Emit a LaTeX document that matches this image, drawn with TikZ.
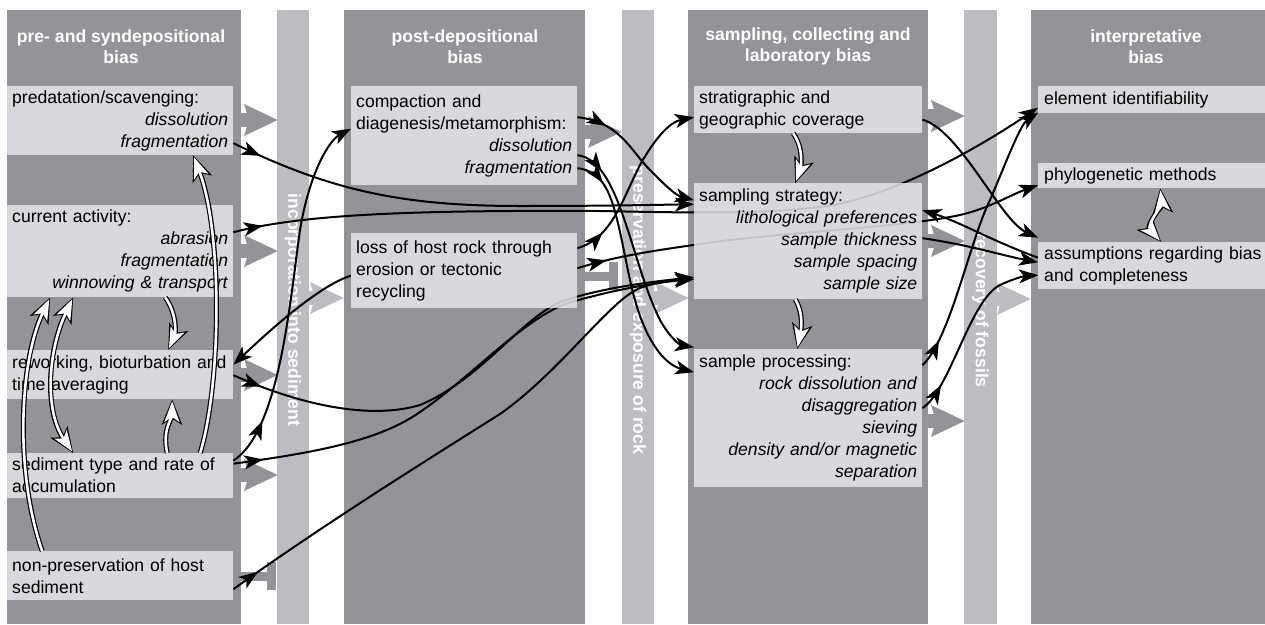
\documentclass[tikz,border=0pt]{standalone}
\usepackage{fontspec}
\setmainfont{Liberation Sans}
\usetikzlibrary{arrows.meta, decorations.markings, positioning}

\definecolor{colgray}{RGB}{147,148,152}
\definecolor{bargray}{RGB}{188,189,193}
\definecolor{boxgray}{RGB}{229,230,232}

\pgfdeclarelayer{front}
\pgfsetlayers{main,front}

\newcommand\ral[1]{\hspace*{\fill}\textit{#1}}

\begin{document}
\begin{tikzpicture}[x=1pt, y=-1pt,
  every node/.style={font=\fontsize{17.6}{22}\selectfont},
  head/.style={text=white, font=\fontsize{17.6}{21}\selectfont\bfseries, align=center},
  bartext/.style={text=white, font=\fontsize{17.6}{21}\selectfont\bfseries, rotate=-90},
  box/.style={fill=boxgray, fill opacity=0.85, text opacity=1, anchor=north west,
    inner xsep=5pt, inner ysep=0pt, align=left, text width=216pt},
  gflow/.style={draw=colgray, line width=14pt, -{Stealth[length=33pt, width=30pt, inset=4pt]}},
  lflow/.style={draw=bargray, line width=14pt, -{Stealth[length=33pt, width=30pt, inset=4pt]}},
  tstop/.style={draw=colgray, line width=9pt, -{Rectangle[length=9pt, width=28pt]}},
  conn/.style={draw=black, line width=2pt, -{Stealth[length=19pt, width=14pt, inset=5pt]}},
  early/.style={postaction={decorate}, decoration={markings,
    mark=at position #1 with {\arrow{Stealth[length=19pt, width=14pt, inset=5pt]}}}},
  early/.default=30pt,
  wout/.style={draw=black, line width=5pt, -{Stealth[length=25pt, width=20pt, inset=6pt]}},
  win/.style={draw=white, line width=2.6pt, -{Stealth[length=20.5pt, width=15pt, inset=5pt]}, shorten >=2pt},
  wout2/.style={draw=black, line width=5pt, {Stealth[length=25pt, width=20pt, inset=6pt]}-{Stealth[length=25pt, width=20pt, inset=6pt]}},
  win2/.style={draw=white, line width=2.6pt, {Stealth[length=20.5pt, width=15pt, inset=5pt]}-{Stealth[length=20.5pt, width=15pt, inset=5pt]}, shorten >=2pt, shorten <=2pt}]

\useasboundingbox (0,0) rectangle (1265,624);
\fill[white] (0,0) rectangle (1265,624);

% columns and bars
\fill[colgray] (7,10) rectangle (241,624);
\fill[colgray] (344,10) rectangle (585,624);
\fill[colgray] (688,10) rectangle (928,624);
\fill[colgray] (1031,10) rectangle (1265,624);
\fill[bargray] (277,10) rectangle (309,624);
\fill[bargray] (622,10) rectangle (654,624);
\fill[bargray] (964,10) rectangle (997,624);

\node[head] (h1) at (121,46.5) {pre- and syndepositional\\bias};
\node[head] (h2) at (465,46.5) {post-depositional\\bias};
\node[head] (h3) at (808,46.5) {sampling, collecting and\\laboratory bias};
\node[head] (h4) at (1146,46.5) {interpretative\\bias};

\node[bartext] (b1) at (293,310) {incorporation into sediment};
\node[bartext] (b2) at (638,310) {preservation and exposure of rock};
\node[bartext] (b3) at (980.5,310) {recovery of fossils};

% grey flows
\draw[gflow] (236,120) -- (278,120);
\draw[gflow] (236,251) -- (278,251);
\draw[gflow] (236,375) -- (278,375);
\draw[gflow] (236,475) -- (278,475);
\draw[gflow] (580,132) -- (622,132);
\draw[gflow] (923,116) -- (965,116);
\draw[gflow] (923,241) -- (965,241);
\draw[gflow] (923,421) -- (965,421);
\draw[lflow] (305,298) -- (344,298);
\draw[lflow] (650,298) -- (689,298);
\draw[lflow] (993,299) -- (1031,299);
\draw[tstop] (236,576) -- (276,576);
\draw[tstop] (580,276) -- (618,276);

% boxes
\begin{pgfonlayer}{front}
\node[box, minimum height=69pt] (pred) at (7,86) {predatation/scavenging:\\\ral{dissolution}\\\ral{fragmentation}};
\node[box, minimum height=92pt] (cur) at (7,205) {current activity:\\\ral{abrasion}\\\ral{fragmentation}\\\ral{winnowing \& transport}};
\node[box, minimum height=49pt] (rew) at (7,350) {reworking, bioturbation and\\time averaging};
\node[box, minimum height=45pt] (sed) at (7,453) {sediment type and rate of\\accumulation};
\node[box, minimum height=49pt] (non) at (7,551) {non-preservation of host\\sediment};
\node[box, minimum height=99pt] (comp) at (351,86) {compaction and\\diagenesis/metamorphism:\\\ral{dissolution}\\\ral{fragmentation}};
\node[box, minimum height=75pt] (loss) at (351,233) {loss of host rock through\\erosion or tectonic\\recycling};
\node[box, minimum height=47pt, text width=218pt] (strat) at (694,86) {stratigraphic and\\geographic coverage};
\node[box, minimum height=116pt, text width=218pt] (strg) at (694,183) {sampling strategy:\\\ral{lithological preferences}\\\ral{sample thickness}\\\ral{sample spacing}\\\ral{sample size}};
\node[box, minimum height=138pt, text width=218pt] (proc) at (694,349) {sample processing:\\\ral{rock dissolution and}\\\ral{disaggregation}\\\ral{sieving}\\\ral{density and/or magnetic}\\\ral{separation}};
\node[box, minimum height=27pt, text width=230pt, inner xsep=6pt] (elem) at (1038,86) {element identifiability};
\node[box, minimum height=25pt, text width=230pt, inner xsep=6pt] (phylo) at (1038,163) {phylogenetic methods};
\node[box, minimum height=47pt, text width=230pt, inner xsep=6pt] (assum) at (1038,242) {assumptions regarding bias\\and completeness};
\end{pgfonlayer}

% black connectors
\draw[conn, early] ([yshift=-22.5pt]pred.east) .. controls (330,190) and (400,206) .. (520,206) .. controls (600,206) and (650,205) .. ([yshift=37pt]strg.west);
\draw[conn, early] ([yshift=19pt]cur.east) .. controls (300,215) and (400,210) .. (600,211) .. controls (700,213) and (760,214) .. (820,207) .. controls (880,200) and (960,160) .. ([yshift=-8pt]elem.west);
\draw[conn, early] ([yshift=22.5pt]loss.east) .. controls (612,238) and (622,200) .. (640,165) .. controls (655,138) and (670,122) .. ([yshift=-7.5pt]strat.west);
\draw[conn, early] ([yshift=18.5pt]comp.east) .. controls (620,122) and (630,150) .. (650,170) .. controls (665,185) and (675,195) .. ([yshift=41pt]strg.west);
\draw[conn, early] ([yshift=-19.5pt]comp.east) .. controls (620,160) and (630,260) .. (660,320) .. controls (670,338) and (680,345) .. ([yshift=71pt]proc.west);
\draw[conn, early] ([yshift=-32.5pt]comp.east) .. controls (612,172) and (615,210) .. (630,280) .. controls (645,350) and (670,366) .. ([yshift=46pt]proc.west);
\draw[conn, early] ([yshift=2.5pt]loss.east) .. controls (620,255) and (660,250) .. (700,244) .. controls (780,232) and (900,228) .. (960,215) .. controls (990,208) and (1010,195) .. ([yshift=-9.5pt]phylo.west);
\draw[conn] ([yshift=-5pt]loss.west) .. controls (320,285) and (270,330) .. ([yshift=10pt]rew.east);
\draw[conn, early=50pt] ([yshift=15pt]sed.east) .. controls (280,430) and (290,300) .. (300,230) .. controls (310,170) and (330,140) .. ([yshift=7pt]comp.west);
\draw[conn, early] ([yshift=-0.5pt]rew.east) .. controls (300,405) and (370,420) .. (420,405) .. controls (480,380) and (520,320) .. (560,302) .. controls (600,288) and (650,282) .. ([yshift=-36pt]strg.west);
\draw[conn, early] ([yshift=12pt]sed.east) .. controls (320,452) and (380,440) .. (420,412) .. controls (470,378) and (520,322) .. (565,304) .. controls (610,290) and (660,282) .. ([yshift=-38pt]strg.west);
\draw[conn, early] ([yshift=-13.5pt]non.east) .. controls (330,520) and (440,452) .. (500,414) .. controls (560,372) and (610,300) .. (640,288) .. controls (660,281) and (680,279) .. ([yshift=-38pt]strg.west);
\draw[conn] ([yshift=-10pt]strat.east) .. controls (960,130) and (1000,220) .. ([yshift=28pt]assum.west);
\draw[conn] ([yshift=3pt]strg.east) .. controls (970,245) and (1000,255) .. ([yshift=3.5pt]assum.west);
\draw[conn] ([yshift=8pt]assum.west) .. controls (990,240) and (960,222) .. ([yshift=31pt]strg.east);
\draw[conn, early] ([yshift=53pt]proc.east) .. controls (950,340) and (970,240) .. (990,200) .. controls (1005,165) and (1020,125) .. ([yshift=-13pt]elem.west);
\draw[conn, early] ([yshift=10pt]proc.east) .. controls (950,390) and (970,300) .. (1000,285) .. controls (1015,278) and (1025,276) .. ([yshift=-9.5pt]assum.west);

% white arrows
\begin{pgfonlayer}{front}
\draw[wout] ([xshift=80pt]sed.north) .. controls (222,380) and (222,230) .. ([xshift=73pt]pred.south);
\draw[win] ([xshift=80pt]sed.north) .. controls (222,380) and (222,230) .. ([xshift=73pt]pred.south);
\draw[wout] ([xshift=-78pt]non.north) .. controls (14,470) and (20,360) .. ([xshift=-70pt]cur.south);
\draw[win] ([xshift=-78pt]non.north) .. controls (14,470) and (20,360) .. ([xshift=-70pt]cur.south);
\draw[wout2] ([xshift=-47pt]cur.south) .. controls (48,350) and (44,410) .. ([xshift=-47pt]sed.north);
\draw[win2] ([xshift=-47pt]cur.south) .. controls (48,350) and (44,410) .. ([xshift=-47pt]sed.north);
\draw[wout] ([xshift=45pt]cur.south) .. controls (178,315) and (175,335) .. ([xshift=48pt]rew.north);
\draw[win] ([xshift=45pt]cur.south) .. controls (178,315) and (175,335) .. ([xshift=48pt]rew.north);
\draw[wout] ([xshift=47pt]sed.north) .. controls (162,430) and (172,418) .. ([xshift=52pt]rew.south);
\draw[win] ([xshift=47pt]sed.north) .. controls (162,430) and (172,418) .. ([xshift=52pt]rew.south);
\draw[wout] ([xshift=-15pt]strat.south) .. controls (805,150) and (800,170) .. ([xshift=-13pt]strg.north);
\draw[win] ([xshift=-15pt]strat.south) .. controls (805,150) and (800,170) .. ([xshift=-13pt]strg.north);
\draw[wout] ([xshift=-13pt]strg.south) .. controls (805,315) and (800,335) .. ([xshift=-11pt]proc.north);
\draw[win] ([xshift=-13pt]strg.south) .. controls (805,315) and (800,335) .. ([xshift=-11pt]proc.north);
\draw[wout2] ([xshift=1pt]phylo.south) .. controls (1162,205) and (1146,225) .. ([xshift=2pt]assum.north);
\draw[win2] ([xshift=1pt]phylo.south) .. controls (1162,205) and (1146,225) .. ([xshift=2pt]assum.north);
\end{pgfonlayer}
\end{tikzpicture}
\end{document}
